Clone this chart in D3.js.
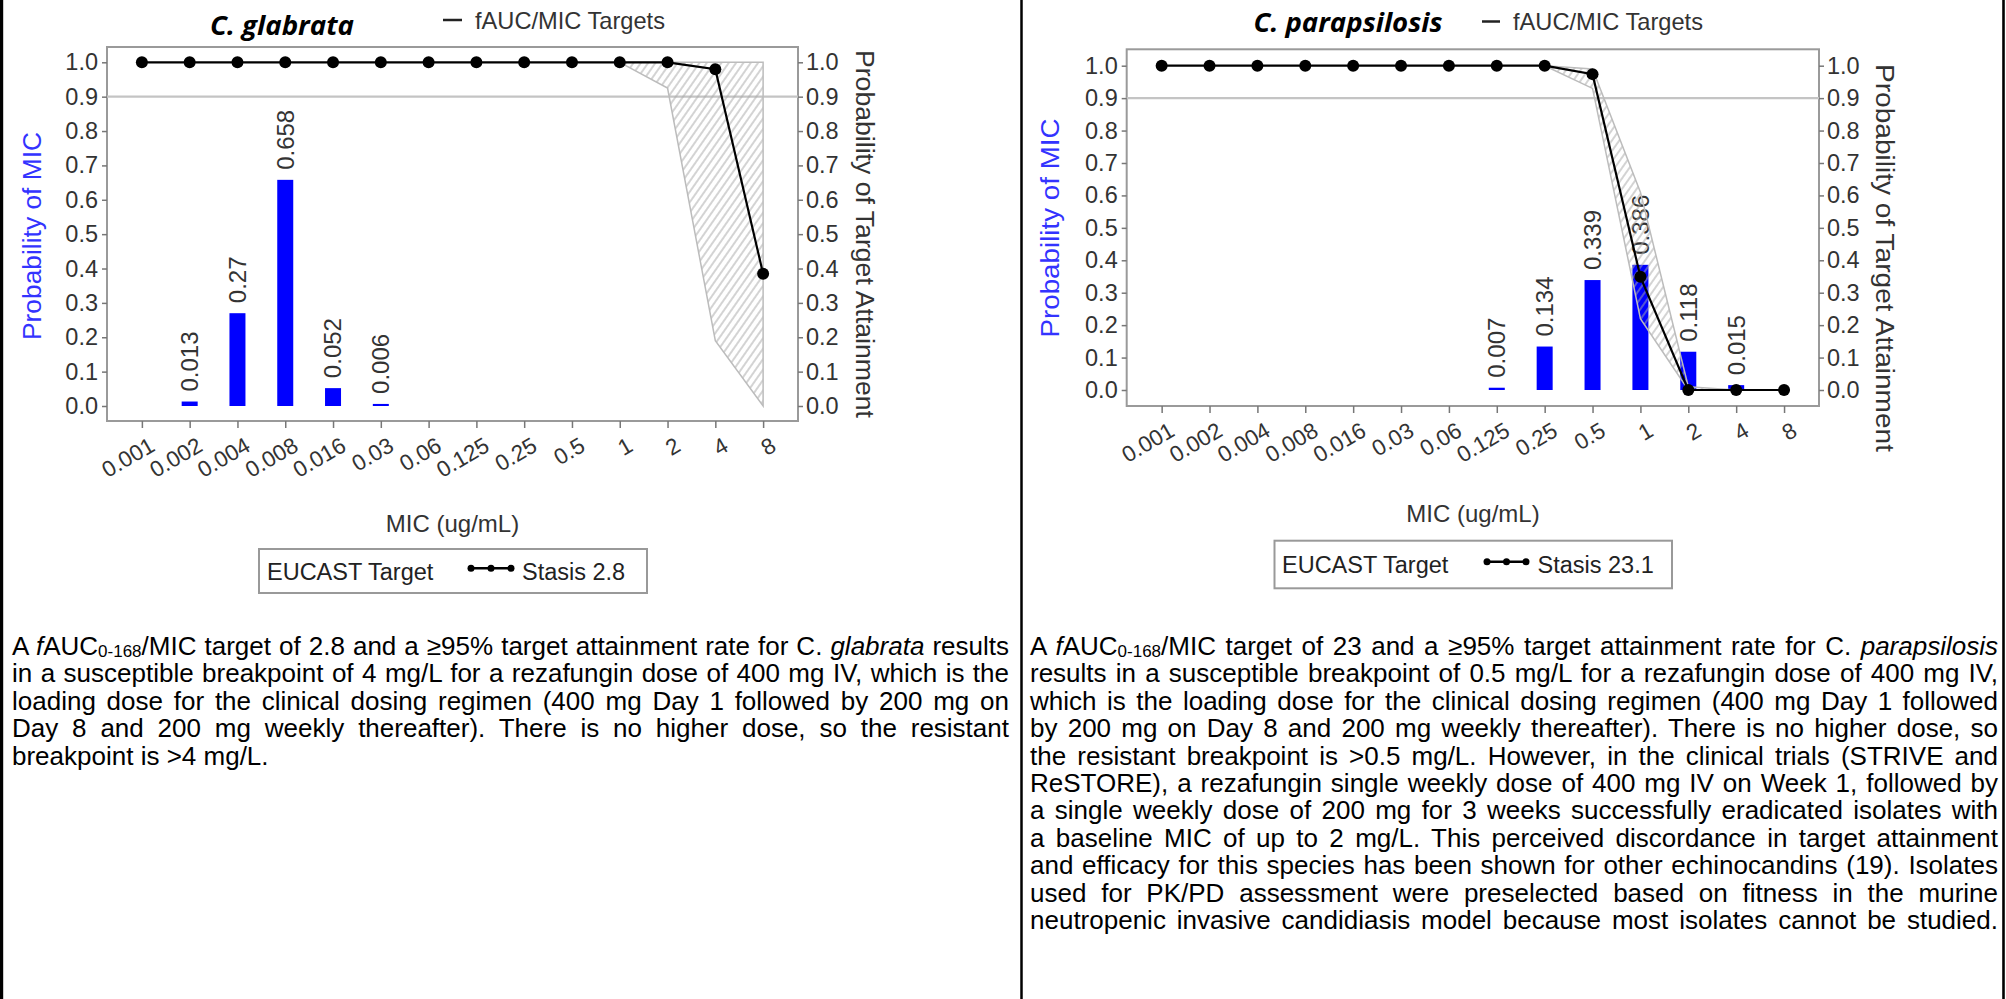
<!DOCTYPE html>
<html><head><meta charset="utf-8">
<script src="https://cdn.jsdelivr.net/npm/d3@7/dist/d3.min.js"></script>
<style>
html,body{margin:0;padding:0;background:#fff;}
svg{display:block;}
</style></head><body>
<svg id="c" width="2006" height="999"></svg>
<script>
// ---------------- DATA ----------------
const micLabels = ["0.001","0.002","0.004","0.008","0.016","0.03","0.06","0.125","0.25","0.5","1","2","4","8"];
const probTicks = [0,0.1,0.2,0.3,0.4,0.5,0.6,0.7,0.8,0.9,1.0];
const targetLevel = 0.9;

const glabrataMicProb = [null,0.013,0.27,0.658,0.052,0.006,null,null,null,null,null,null,null,null];
const glabrataPTA     = [1,1,1,1,1,1,1,1,1,1,1,1,0.98,0.385];
const glabrataUpper   = [null,null,null,null,null,null,null,null,null,null,1,1,1,1];
const glabrataLower   = [null,null,null,null,null,null,null,null,null,null,1,0.925,0.19,0];

const parapMicProb = [null,null,null,null,null,null,null,0.007,0.134,0.339,0.386,0.118,0.015,null];
const parapPTA     = [1,1,1,1,1,1,1,1,1,0.974,0.349,0,0,0];
const parapUpper   = [null,null,null,null,null,null,null,null,1,0.99,0.61,0.01,0,null];
const parapLower   = [null,null,null,null,null,null,null,null,1,0.93,0.22,0,0,null];

const leftText = [
  [["A "],["f","i"],["AUC"],["0-168","sub"],["/MIC target of 2.8 and a \u226595% target attainment rate for C. "],["glabrata","i"],[" results"]],
  [["in a susceptible breakpoint of 4 mg/L for a rezafungin dose of 400 mg IV, which is the"]],
  [["loading dose for the clinical dosing regimen (400 mg Day 1 followed by 200 mg on"]],
  [["Day 8 and 200 mg weekly thereafter). There is no higher dose, so the resistant"]],
  [["breakpoint is >4 mg/L."]]
];
const rightText = [
  [["A "],["f","i"],["AUC"],["0-168","sub"],["/MIC target of 23 and a \u226595% target attainment rate for C. "],["parapsilosis","i"]],
  [["results in a susceptible breakpoint of 0.5 mg/L for a rezafungin dose of 400 mg IV,"]],
  [["which is the loading dose for the clinical dosing regimen (400 mg Day 1 followed"]],
  [["by 200 mg on Day 8 and 200 mg weekly thereafter). There is no higher dose, so"]],
  [["the resistant breakpoint is >0.5 mg/L. However, in the clinical trials (STRIVE and"]],
  [["ReSTORE), a rezafungin single weekly dose of 400 mg IV on Week 1, followed by"]],
  [["a single weekly dose of 200 mg for 3 weeks successfully eradicated isolates with"]],
  [["a baseline MIC of up to 2 mg/L. This perceived discordance in target attainment"]],
  [["and efficacy for this species has been shown for other echinocandins (19). Isolates"]],
  [["used for PK/PD assessment were preselected based on fitness in the murine"]],
  [["neutropenic invasive candidiasis model because most isolates cannot be studied."]]
];

// ---------------- DRAWING ----------------
const svg = d3.select("#c");
const FONT = "'Liberation Sans', Arial, sans-serif";
const defs = svg.append("defs");
const pat = defs.append("pattern").attr("id","hatch").attr("patternUnits","userSpaceOnUse")
  .attr("width",6).attr("height",10).attr("patternTransform","rotate(35)");
pat.append("line").attr("x1",3).attr("x2",3).attr("y1",0).attr("y2",10)
  .attr("stroke","#a8a8a8").attr("stroke-width",1);

function drawPanel(o) {
  const x = d3.scalePoint().domain(micLabels).range([o.x0, o.x1]).padding(0.73);
  const y = d3.scaleLinear().domain([0,1]).range([o.yZero, o.yOne]);
  const g = svg.append("g").attr("font-family", FONT);

  g.append("rect").attr("x",o.x0).attr("y",o.y0).attr("width",o.x1-o.x0).attr("height",o.y1-o.y0)
    .attr("fill","none").attr("stroke","#9a9a9a").attr("stroke-width",2);

  g.append("line").attr("x1",o.x0).attr("x2",o.x1).attr("y1",y(targetLevel)).attr("y2",y(targetLevel))
    .attr("stroke","#c4c4c4").attr("stroke-width",2.2);

  const fmt = d3.format(".1f");
  const yl = g.append("g").attr("transform",`translate(${o.x0},0)`)
    .call(d3.axisLeft(y).tickValues(probTicks).tickFormat(fmt).tickSize(5).tickSizeOuter(0).tickPadding(4));
  const yr = g.append("g").attr("transform",`translate(${o.x1},0)`)
    .call(d3.axisRight(y).tickValues(probTicks).tickFormat(fmt).tickSize(5).tickSizeOuter(0).tickPadding(3));
  const xa = g.append("g").attr("transform",`translate(0,${o.y1})`)
    .call(d3.axisBottom(x).tickSize(7).tickSizeOuter(0));
  [yl, yr, xa].forEach(a => {
    a.select(".domain").remove();
    a.attr("font-size",23.5).attr("font-family",FONT);
    a.selectAll("line").attr("stroke","#777").attr("stroke-width",1.5);
    a.selectAll("text").attr("fill","#333");
  });
  xa.attr("font-size",22.5);
  xa.selectAll("text").attr("y",null).attr("dy",null).attr("text-anchor","end")
    .attr("transform","translate(14,29) rotate(-30)");

  // bars
  const barData = micLabels.map((m,i) => ({m, v:o.bars[i]})).filter(d => d.v != null);
  g.selectAll(".bar").data(barData).enter().append("rect")
    .attr("x", d => x(d.m) - 8).attr("width", 16)
    .attr("y", d => y(d.v)).attr("height", d => y(0) - y(d.v))
    .attr("fill", "#0000ff");
  g.selectAll(".blab").data(barData).enter().append("text")
    .attr("transform", d => `translate(${x(d.m)},${y(d.v) - 10}) rotate(-90)`)
    .attr("dy","0.35em").attr("font-size",24).attr("fill","#333")
    .text(d => String(d.v));

  // band
  const idx = d3.range(micLabels.length);
  const area = d3.area().defined(i => o.up[i] != null)
    .x(i => x(micLabels[i])).y0(i => y(o.lo[i])).y1(i => y(o.up[i]));
  g.append("path").attr("d", area(idx)).attr("fill","url(#hatch)")
    .attr("stroke","#bcbcbc").attr("stroke-width",1.5);

  // PTA line
  const line = d3.line().x(i => x(micLabels[i])).y(i => y(o.pta[i]));
  g.append("path").attr("d", line(idx)).attr("fill","none").attr("stroke","#000").attr("stroke-width",2.2);
  g.selectAll(".dot").data(idx).enter().append("circle")
    .attr("cx", i => x(micLabels[i])).attr("cy", i => y(o.pta[i])).attr("r", 6).attr("fill","#000");

  // titles
  g.append("text").attr("x",o.titleX).attr("y",o.titleY).attr("text-anchor","middle")
    .attr("font-family","'Open Sans', Lato, sans-serif").attr("font-weight",700).attr("font-style","italic")
    .attr("font-size",27).attr("textLength",o.titleLen).attr("lengthAdjust","spacingAndGlyphs")
    .attr("fill","#000").text(o.title);
  g.append("line").attr("x1",o.dashX[0]).attr("x2",o.dashX[1]).attr("y1",o.dashY).attr("y2",o.dashY)
    .attr("stroke","#222").attr("stroke-width",2.5);
  g.append("text").attr("x",o.tgtX).attr("y",o.tgtY).attr("font-size",24).attr("fill","#333")
    .attr("textLength",190).attr("lengthAdjust","spacingAndGlyphs").text("fAUC/MIC Targets");

  // axis titles
  g.append("text").attr("transform",`translate(${o.yTitleX},${o.yTitleY}) rotate(-90)`)
    .attr("text-anchor","middle").attr("dy","0.35em").attr("font-size",26).attr("fill","#3333ff")
    .attr("textLength",o.yTitleLen).attr("lengthAdjust","spacingAndGlyphs").text("Probability of MIC");
  g.append("text").attr("transform",`translate(${o.y2TitleX},${o.y2TitleY}) rotate(90)`)
    .attr("text-anchor","middle").attr("dy","0.35em").attr("font-size",26).attr("fill","#333")
    .attr("textLength",o.y2TitleLen).attr("lengthAdjust","spacingAndGlyphs").text("Probability of Target Attainment");
  g.append("text").attr("x",o.xTitleX).attr("y",o.xTitleY).attr("text-anchor","middle")
    .attr("font-size",24).attr("fill","#333").text("MIC (ug/mL)");

  // legend
  const L = o.leg;
  g.append("rect").attr("x",L.x).attr("y",L.y).attr("width",L.w).attr("height",L.h)
    .attr("fill","#fff").attr("stroke","#999").attr("stroke-width",2);
  g.append("text").attr("x",L.tx).attr("y",L.ty).attr("font-size",23.5).attr("fill","#222").text("EUCAST Target");
  g.append("line").attr("x1",L.lx0).attr("x2",L.lx1).attr("y1",L.ly).attr("y2",L.ly)
    .attr("stroke","#000").attr("stroke-width",2.5);
  [L.lx0, (L.lx0+L.lx1)/2, L.lx1].forEach(cx =>
    g.append("circle").attr("cx",cx).attr("cy",L.ly).attr("r",3.5).attr("fill","#000"));
  g.append("text").attr("x",L.sx).attr("y",L.ty).attr("font-size",23.5).attr("fill","#222").text(o.stasis);
}

drawPanel({
  x0:107, x1:798, y0:47, y1:421, yZero:406, yOne:62.3,
  bars:glabrataMicProb, pta:glabrataPTA, up:glabrataUpper, lo:glabrataLower,
  title:"C. glabrata", titleX:282, titleY:35, titleLen:144,
  dashX:[443,462], dashY:20, tgtX:475, tgtY:28.5,
  yTitleX:32, yTitleY:236, yTitleLen:208,
  y2TitleX:865, y2TitleY:234, y2TitleLen:368,
  xTitleX:452.5, xTitleY:532,
  leg:{x:259, y:549, w:388, h:44, tx:267, ty:580, lx0:471, lx1:511, ly:568.3, sx:522},
  stasis:"Stasis 2.8"
});
drawPanel({
  x0:1126.7, x1:1819, y0:49.3, y1:406, yZero:390, yOne:65.7,
  bars:parapMicProb, pta:parapPTA, up:parapUpper, lo:parapLower,
  title:"C. parapsilosis", titleX:1348, titleY:32, titleLen:189,
  dashX:[1482,1500], dashY:21.5, tgtX:1513, tgtY:29.5,
  yTitleX:1050, yTitleY:228, yTitleLen:219,
  y2TitleX:1885, y2TitleY:258, y2TitleLen:388,
  xTitleX:1473, xTitleY:522,
  leg:{x:1274.5, y:540.7, w:397.5, h:47.6, tx:1282, ty:573, lx0:1487, lx1:1526, ly:561.7, sx:1537.5},
  stasis:"Stasis 23.1"
});

// paragraphs, justified line by line
function paragraph(lines, x0, x1, base, lh, justifyLast) {
  const W = x1 - x0;
  lines.forEach((segs, i) => {
    const t = svg.append("text").attr("x", x0).attr("y", base + i*lh)
      .attr("font-family",FONT).attr("font-size",26).attr("fill","#000")
      .style("white-space","pre");
    let shifted = false, nSpaces = 0;
    segs.forEach(s => {
      const ts = t.append("tspan").text(s[0]);
      nSpaces += (s[0].match(/ /g) || []).length;
      if (s[1] === "i") ts.attr("font-style","italic");
      if (s[1] === "sub") { ts.attr("font-size",17).attr("dy",2); shifted = true; }
      else if (shifted) { ts.attr("dy",-2); shifted = false; }
    });
    if (i < lines.length - 1 || justifyLast) {
      const w = t.node().getComputedTextLength();
      t.style("word-spacing", ((W - w) / nSpaces) + "px");
    }
  });
}
paragraph(leftText, 12, 1009, 655, 27.4, false);
paragraph(rightText, 1030, 1998, 655, 27.4, true);

// table borders
[[1.6,3.2],[1021.5,2.5],[2003.5,2.6]].forEach(b =>
  svg.append("line").attr("x1",b[0]).attr("x2",b[0]).attr("y1",0).attr("y2",999)
    .attr("stroke","#000").attr("stroke-width",b[1]));
</script>
</body></html>
